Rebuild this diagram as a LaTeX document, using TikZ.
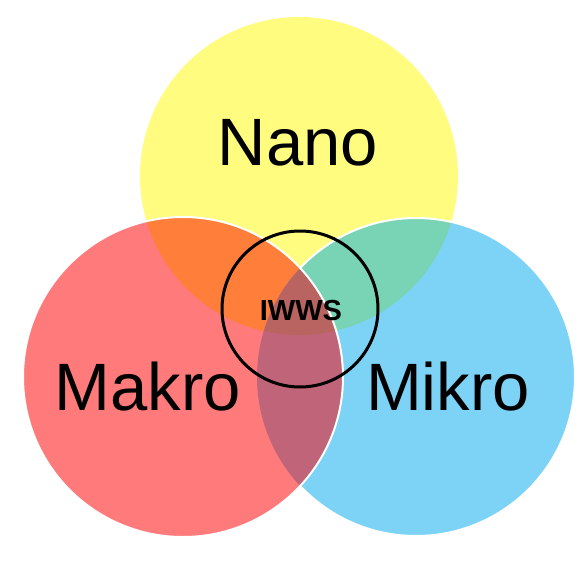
\documentclass[tikz,border=0pt]{standalone}
\usepackage{fontspec}
\setmainfont{Liberation Sans}
\definecolor{nanoyellow}{RGB}{255,252,128}
\definecolor{makrored}{RGB}{255,123,123}
\definecolor{mikroblue}{RGB}{125,211,245}
\definecolor{nmorange}{RGB}{255,126,58}
\definecolor{nmgreen}{RGB}{120,212,180}
\definecolor{mmmauve}{RGB}{192,100,122}
\definecolor{allbrown}{RGB}{186,100,98}

\tikzstyle{label} = [anchor=base, text=black, inner sep=0pt]
\tikzstyle{biglabel} = [label, font=\fontsize{67}{67}\selectfont]
\tikzstyle{ring} = [draw=black, line width=3pt]
\tikzstyle{rim} = [draw=white, line width=2pt]

\begin{document}
\begin{tikzpicture}[x=1pt, y=-1pt]
  \useasboundingbox [fill=white] (0,0) rectangle (582,568);
  %circles
  \coordinate (nano) at (299,176);
  \coordinate (makro) at (183,377);
  \coordinate (mikro) at (416,377);
  \fill [nanoyellow] (nano) circle (159);
  \fill [mikroblue] (mikro) circle (159);
  \fill [makrored] (makro) circle (160);
  %overlaps
  \begin{scope}
    \clip (nano) circle (159);
    \fill [nmorange] (makro) circle (160);
  \end{scope}
  \begin{scope}
    \clip (nano) circle (159);
    \fill [nmgreen] (mikro) circle (159);
  \end{scope}
  \begin{scope}
    \clip (makro) circle (160);
    \fill [mmmauve] (mikro) circle (159);
    \clip (mikro) circle (159);
    \fill [allbrown] (nano) circle (159);
  \end{scope}
  %white rims
  \begin{scope}[even odd rule]
    \clip (0,0) rectangle (582,568) (makro) circle (161);
    \draw [rim] (mikro) circle (159);
  \end{scope}
  \draw [rim] (makro) circle (160);
  %center ring
  \draw [ring] (300,309) circle (78);
  %texts
  \node (nanotext) [biglabel] at (298,165) {Nano};
  \node (makrotext) [biglabel] at (148,410) {Makro};
  \node (mikrotext) [biglabel] at (448,410) {Mikro};
  \node (iwws) [label, font=\fontsize{29}{29}\selectfont\bfseries] at (301,320) {IWWS};
\end{tikzpicture}
\end{document}
